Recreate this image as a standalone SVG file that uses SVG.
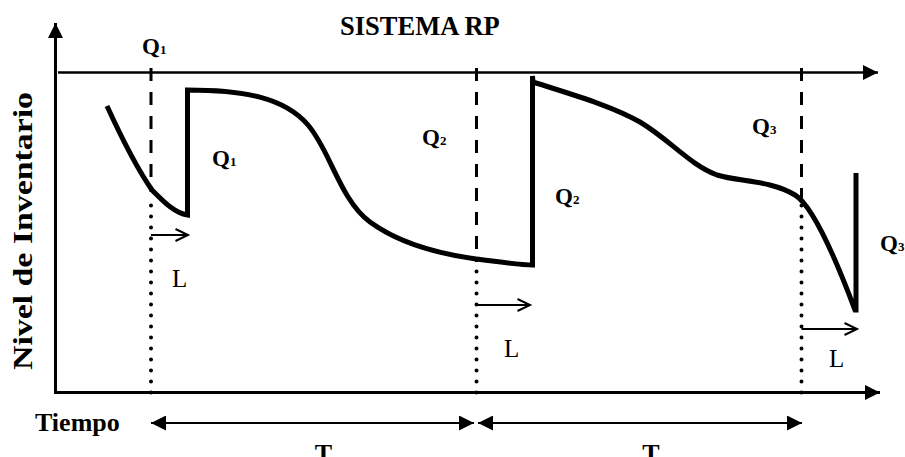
<svg xmlns="http://www.w3.org/2000/svg" width="905" height="457" viewBox="0 0 905 457">
<style>
  .b { font-family: "Liberation Serif", "Times New Roman", serif; font-weight: bold; fill: #000; }
  .r { font-family: "Liberation Serif", "Times New Roman", serif; fill: #000; }
  .q { font-size: 23px; }
  .sub { font-size: 13px; }
  .L { font-size: 25px; }
  .ax { stroke: #000; fill: none; }
  .dash { stroke: #000; stroke-width: 3; stroke-dasharray: 13 11; fill: none; }
  .dot { stroke: #000; stroke-width: 4; stroke-linecap: round; stroke-dasharray: 0 11; fill: none; }
  .thin { stroke: #000; stroke-width: 2; fill: none; }
</style>
<defs>
  <marker id="tri" viewBox="0 0 15 15" refX="15" refY="7.5" markerWidth="15" markerHeight="15" markerUnits="userSpaceOnUse" orient="auto-start-reverse">
    <path d="M0,0 L15,7.5 L0,15 Z" fill="#000"/>
  </marker>
  <marker id="open" viewBox="0 0 14 14" refX="13" refY="7" markerWidth="14" markerHeight="14" markerUnits="userSpaceOnUse" orient="auto" overflow="visible">
    <path d="M0.5,1 L13,7 L0.5,13" fill="none" stroke="#000" stroke-width="2"/>
  </marker>
</defs>
<rect width="905" height="457" fill="#fff"/>

<g id="axes">
  <line class="ax" x1="55.5" y1="394" x2="55.5" y2="23" stroke-width="3" marker-end="url(#tri)"/>
  <line class="ax" x1="54" y1="392.5" x2="880" y2="392.5" stroke-width="3" marker-end="url(#tri)"/>
  <line class="ax" x1="58" y1="72.5" x2="878" y2="72.5" stroke-width="2.5" marker-end="url(#tri)"/>
</g>

<g id="guides">
  <line class="dash" x1="151" y1="68" x2="151" y2="192"/>
  <line class="dot" x1="151" y1="392.5" x2="151" y2="195"/>
  <line class="dash" x1="476.5" y1="68" x2="476.5" y2="262"/>
  <line class="dot" x1="476.5" y1="392.5" x2="476.5" y2="268"/>
  <line class="dash" x1="801.5" y1="68" x2="801.5" y2="198"/>
  <line class="dot" x1="801.5" y1="392.5" x2="801.5" y2="200"/>
</g>

<g id="inventory-curve">
  <path d="M107,106 C118,130 138,170 152,190 C162,200 174,213 187.5,215 L187.5,90 C245,90 285,98 308,125 C330,150 340,200 370,222 C400,244 440,254 476,259 C500,262 520,265 532.5,265 L532.5,76 L533,82 C570,94 610,105 640,122 C670,140 690,165 717,175 C740,182 770,180 795,195 C815,207 840,270 855,310 L856,310 L856,173" fill="none" stroke="#000" stroke-width="5" stroke-linejoin="miter"/>
</g>

<g id="connectors">
  <line class="thin" x1="151" y1="235" x2="188" y2="235" marker-end="url(#open)"/>
  <line class="thin" x1="476.5" y1="305" x2="530" y2="305" marker-end="url(#open)"/>
  <line class="thin" x1="801.5" y1="329" x2="857" y2="329" marker-end="url(#open)"/>
  <line class="thin" x1="151" y1="423" x2="474" y2="423" marker-start="url(#tri)" marker-end="url(#tri)"/>
  <line class="thin" x1="478" y1="423" x2="802" y2="423" marker-start="url(#tri)" marker-end="url(#tri)"/>
</g>

<g id="labels">
  <text id="title" class="b" x="340" y="35" font-size="26.5">SISTEMA RP</text>
  <text id="ylabel" class="b" font-size="28" text-anchor="middle" textLength="278" lengthAdjust="spacingAndGlyphs" transform="translate(32,231) rotate(-90)">Nivel de Inventario</text>
  <text id="xlabel" class="b" x="35" y="431" font-size="26">Tiempo</text>
  <text class="b q" x="142" y="54">Q<tspan class="sub">1</tspan></text>
  <text class="b q" x="212" y="166">Q<tspan class="sub">1</tspan></text>
  <text class="b q" x="422" y="145">Q<tspan class="sub">2</tspan></text>
  <text class="b q" x="555" y="204">Q<tspan class="sub">2</tspan></text>
  <text class="b q" x="752" y="134">Q<tspan class="sub">3</tspan></text>
  <text class="b q" x="880" y="251">Q<tspan class="sub">3</tspan></text>
  <text class="r L" x="172" y="287">L</text>
  <text class="r L" x="504" y="357">L</text>
  <text class="r L" x="829" y="367">L</text>
  <text class="b" x="323.5" y="462" font-size="26" text-anchor="middle">T</text>
  <text class="b" x="651" y="462" font-size="26" text-anchor="middle">T</text>
</g>
</svg>
